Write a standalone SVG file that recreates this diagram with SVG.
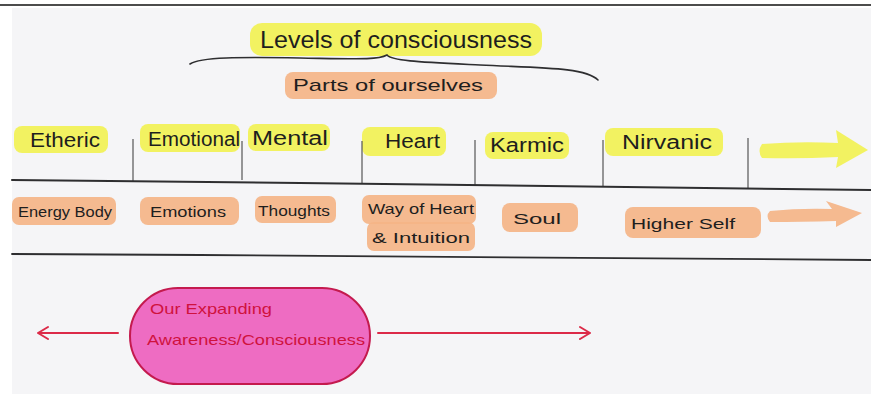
<svg xmlns="http://www.w3.org/2000/svg" width="871" height="394" viewBox="0 0 871 394">
<style>
  .hy { fill: #f2f250; opacity: 0.9; }
  .ho { fill: #f4b487; opacity: 0.92; }
  .t { font-family: "Liberation Sans", Arial, sans-serif; fill: #1e1e1e; }
  .lv { font-size: 20px; }
  .pt { font-size: 15px; }
  .rule { stroke: #2e2e30; fill: none; stroke-linecap: round; }
  .div { stroke: #555; stroke-width: 1.2; }
  .red { stroke: #dc2a48; stroke-width: 2; fill: none; stroke-linecap: round; stroke-linejoin: round; }
  .rt { font-family: "Liberation Sans", Arial, sans-serif; fill: #d0123e; font-size: 15px; }
</style>
<rect x="0" y="0" width="871" height="394" fill="#ffffff"/>
<rect x="12" y="8" width="859" height="386" fill="#f5f5f7"/>
<line x1="0" y1="5" x2="871" y2="5" stroke="#111" stroke-width="1.6"/>

<g id="title">
  <rect class="hy" x="250" y="23" width="292" height="33" rx="12"/>
  <text class="t" x="260" y="48" font-size="23" textLength="272" lengthAdjust="spacingAndGlyphs">Levels of consciousness</text>
</g>
<g id="parts">
  <rect class="ho" x="285" y="72" width="212" height="27" rx="8"/>
  <text class="t" x="293" y="91" font-size="17" textLength="190" lengthAdjust="spacingAndGlyphs">Parts of ourselves</text>
</g>

<g id="etheric"><rect class="hy" x="14" y="126" width="94" height="27" rx="8"/><text class="t lv" x="30" y="147" textLength="70" lengthAdjust="spacingAndGlyphs">Etheric</text></g>
<g id="emotional"><rect class="hy" x="140" y="124" width="100" height="28" rx="8"/><text class="t lv" x="148" y="146" textLength="92" lengthAdjust="spacingAndGlyphs">Emotional</text></g>
<g id="mental"><rect class="hy" x="248" y="124" width="82" height="27" rx="8"/><text class="t lv" x="252" y="145" textLength="76" lengthAdjust="spacingAndGlyphs">Mental</text></g>
<g id="heart"><rect class="hy" x="362" y="127" width="84" height="29" rx="8"/><text class="t lv" x="385" y="148" textLength="55" lengthAdjust="spacingAndGlyphs">Heart</text></g>
<g id="karmic"><rect class="hy" x="485" y="132" width="84" height="27" rx="8"/><text class="t lv" x="490" y="152" textLength="74" lengthAdjust="spacingAndGlyphs">Karmic</text></g>
<g id="nirvanic"><rect class="hy" x="605" y="128" width="118" height="28" rx="8"/><text class="t lv" x="622" y="149" textLength="90" lengthAdjust="spacingAndGlyphs">Nirvanic</text></g>
<g id="yellow-arrow">
  <path class="hy" d="M762,144 Q800,141 838,143 L836,130 L868,150 L836,168 L838,157 Q800,159 762,158 Q757,151 762,144 Z"/>
</g>

<g id="energy-body"><rect class="ho" x="12" y="197" width="104" height="28" rx="7"/><text class="t pt" x="18" y="217" textLength="94" lengthAdjust="spacingAndGlyphs">Energy Body</text></g>
<g id="emotions"><rect class="ho" x="140" y="197" width="99" height="28" rx="8"/><text class="t pt" x="150" y="217" textLength="76" lengthAdjust="spacingAndGlyphs">Emotions</text></g>
<g id="thoughts"><rect class="ho" x="255" y="196" width="81" height="27" rx="7"/><text class="t pt" x="258" y="216" textLength="72" lengthAdjust="spacingAndGlyphs">Thoughts</text></g>
<g id="way-of-heart">
  <rect class="ho" x="362" y="195" width="114" height="29" rx="7"/>
  <rect class="ho" x="367" y="222" width="108" height="29" rx="7"/>
  <text class="t pt" x="368" y="214" textLength="106" lengthAdjust="spacingAndGlyphs">Way of Heart</text>
  <text class="t pt" x="372" y="243" textLength="98" lengthAdjust="spacingAndGlyphs">&amp; Intuition</text>
</g>
<g id="soul"><rect class="ho" x="502" y="203" width="76" height="29" rx="8"/><text class="t pt" x="513" y="224" textLength="48" lengthAdjust="spacingAndGlyphs">Soul</text></g>
<g id="higher-self"><rect class="ho" x="625" y="207" width="136" height="31" rx="8"/><text class="t pt" x="631" y="229" textLength="104" lengthAdjust="spacingAndGlyphs">Higher Self</text></g>
<g id="orange-arrow">
  <path class="ho" d="M770,211 Q800,208 832,209 L826,201 L862,213 L836,227 L836,221 Q800,222 770,222 Q765,216 770,211 Z"/>
</g>

<g id="awareness">
  <rect x="130" y="288" width="240" height="96" rx="48" fill="#ee6cc2" stroke="#c41a4e" stroke-width="2"/>
  <text class="rt" x="150" y="314" textLength="122" lengthAdjust="spacingAndGlyphs">Our Expanding</text>
  <text class="rt" x="147" y="345" textLength="218" lengthAdjust="spacingAndGlyphs">Awareness/Consciousness</text>
</g>

<g id="connectors">
  <path class="rule" stroke-width="1.6" d="M190,64 C200,57 240,57 300,58 S378,60 387,55 C392,61 420,62 480,65 S585,67 598,80"/>
  <line class="div" x1="133" y1="139" x2="133" y2="182"/>
  <line class="div" x1="242" y1="141" x2="242" y2="180"/>
  <line class="div" x1="362" y1="141" x2="362" y2="184"/>
  <line class="div" x1="475" y1="140" x2="475" y2="185"/>
  <line class="div" x1="603" y1="140" x2="603" y2="187"/>
  <line class="div" x1="748" y1="138" x2="748" y2="189"/>
  <path class="rule" stroke-width="2" d="M12,180 L300,183 L871,190"/>
  <path class="rule" stroke-width="1.8" d="M12,254 L200,255 L871,260"/>
  <path class="red" d="M118,333 L38,333 M48,327 L38,333 L48,339"/>
  <path class="red" d="M378,333 L590,333 M580,327 L590,333 L580,339"/>
</g>
</svg>
